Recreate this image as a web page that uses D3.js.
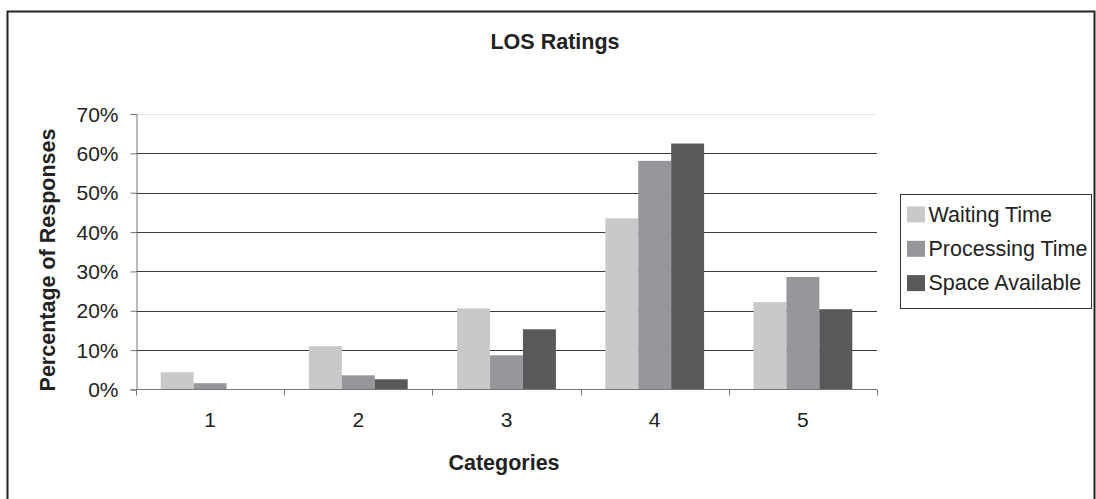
<!DOCTYPE html>
<html>
<head>
<meta charset="utf-8">
<script src="https://cdn.jsdelivr.net/npm/d3@7"></script>
<style>
  html, body { margin: 0; padding: 0; background: #fff; }
  svg { display: block; font-family: "Liberation Sans", Arial, sans-serif; }
</style>
</head>
<body>
<svg id="chart" width="1096" height="499"></svg>
<script>
// LOS rating categories and response shares (percent) per service aspect
const categories = ["1", "2", "3", "4", "5"];
const seriesNames = ["Waiting Time", "Processing Time", "Space Available"];
const waitingTime = [4.4, 11.0, 20.6, 43.5, 22.2];
const processingTime = [1.6, 3.6, 8.7, 58.1, 28.6];
const spaceAvailable = [0.0, 2.6, 15.3, 62.5, 20.4];
const yTicks = [0, 10, 20, 30, 40, 50, 60, 70];
const colors = ["#c8c9cb", "#96979a", "#58595b"];

const seriesValues = [waitingTime, processingTime, spaceAvailable];

const svg = d3.select("#chart");
const plot = { left: 136, right: 877, top: 114, bottom: 389.5 };

// outer chart frame
svg.append("path")
  .attr("d", "M7.5,499 V11.5 H1094.5 V499")
  .attr("fill", "none")
  .attr("stroke", "#222")
  .attr("stroke-width", 2);

const x0 = d3.scaleBand()
  .domain(categories)
  .range([plot.left, plot.right])
  .paddingInner(1 / 3)
  .paddingOuter(1 / 6);

const x1 = d3.scaleBand()
  .domain(seriesNames)
  .range([0, x0.bandwidth()]);

const y = d3.scaleLinear()
  .domain([0, 70])
  .range([plot.bottom, plot.top]);

// horizontal gridlines
svg.append("g")
  .selectAll("line")
  .data(yTicks.filter(d => d > 0))
  .join("line")
  .attr("x1", plot.left)
  .attr("x2", plot.right)
  .attr("y1", d => Math.round(y(d)) + 0.5)
  .attr("y2", d => Math.round(y(d)) + 0.5)
  .attr("stroke", d => d === 70 ? "#e6e6e6" : "#3a3a3a")
  .attr("stroke-width", 1);

// bars
const groups = svg.append("g")
  .selectAll("g")
  .data(categories)
  .join("g")
  .attr("transform", d => `translate(${x0(d)},0)`);

groups.selectAll("rect")
  .data((c, i) => seriesNames.map((s, k) => ({ s, k, v: seriesValues[k][i] })))
  .join("rect")
  .attr("x", d => x1(d.s))
  .attr("width", x1.bandwidth())
  .attr("y", d => y(d.v))
  .attr("height", d => y(0) - y(d.v))
  .attr("fill", d => colors[d.k]);

// y axis
const yAxis = d3.axisLeft(y)
  .tickValues(yTicks)
  .tickSize(6)
  .tickPadding(12)
  .tickFormat(d => d + "%");

const gy = svg.append("g")
  .attr("transform", `translate(${plot.left + 0.5},0)`)
  .call(yAxis);
gy.select(".domain").attr("stroke", "#777");
gy.selectAll(".tick line").attr("stroke", "#777");
gy.selectAll(".tick text")
  .attr("fill", "#222")
  .attr("font-size", "21px")
  .attr("dy", "0.34em");

// x axis with ticks at category boundaries
const gx = svg.append("g")
  .attr("transform", `translate(0,${plot.bottom})`);
gx.append("line")
  .attr("x1", plot.left)
  .attr("x2", plot.right)
  .attr("stroke", "#777");
const boundaries = categories.map(c => x0(c) - x0.step() * x0.paddingOuter())
  .concat([plot.right]);
gx.selectAll("line.tick")
  .data(boundaries)
  .join("line")
  .attr("class", "tick")
  .attr("x1", d => Math.round(d) + 0.5)
  .attr("x2", d => Math.round(d) + 0.5)
  .attr("y1", 0)
  .attr("y2", 6)
  .attr("stroke", "#777");
gx.selectAll("text")
  .data(categories)
  .join("text")
  .attr("x", d => x0(d) + x0.bandwidth() / 2)
  .attr("y", 37)
  .attr("text-anchor", "middle")
  .attr("font-size", "21px")
  .attr("fill", "#222")
  .text(d => d);

// titles
svg.append("text")
  .attr("x", 555)
  .attr("y", 48.5)
  .attr("text-anchor", "middle")
  .attr("font-size", "21.5px")
  .attr("font-weight", "bold")
  .attr("fill", "#222")
  .text("LOS Ratings");

svg.append("text")
  .attr("x", 504)
  .attr("y", 469.5)
  .attr("text-anchor", "middle")
  .attr("font-size", "21.5px")
  .attr("font-weight", "bold")
  .attr("fill", "#222")
  .text("Categories");

svg.append("text")
  .attr("transform", "translate(55,260) rotate(-90)")
  .attr("text-anchor", "middle")
  .attr("font-size", "21.5px")
  .attr("font-weight", "bold")
  .attr("fill", "#222")
  .text("Percentage of Responses");

// legend
const legend = svg.append("g");
legend.append("rect")
  .attr("x", 900.5)
  .attr("y", 194.5)
  .attr("width", 191)
  .attr("height", 114)
  .attr("fill", "#fff")
  .attr("stroke", "#333");
const rows = legend.selectAll("g.row")
  .data(seriesNames)
  .join("g")
  .attr("class", "row")
  .attr("transform", (d, i) => `translate(0,${221.5 + i * 34.3})`);
rows.append("rect")
  .attr("x", 907)
  .attr("y", -15)
  .attr("width", 18)
  .attr("height", 16)
  .attr("fill", (d, i) => colors[i]);
rows.append("text")
  .attr("x", 928.5)
  .attr("y", 0)
  .attr("font-size", "21.5px")
  .attr("fill", "#222")
  .text(d => d);
</script>
</body>
</html>
